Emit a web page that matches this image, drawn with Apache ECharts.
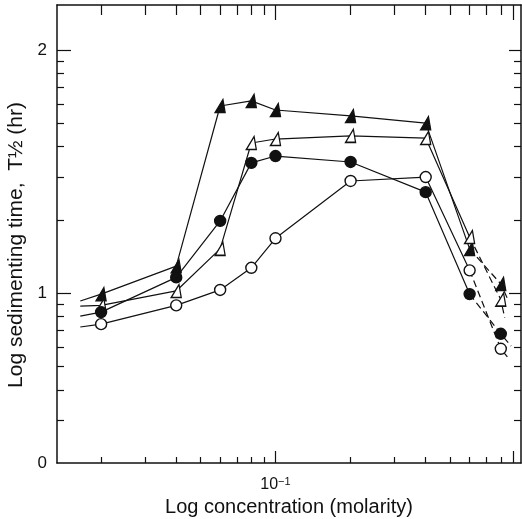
<!DOCTYPE html>
<html><head><meta charset="utf-8">
<script src="https://cdn.jsdelivr.net/npm/echarts@6/dist/echarts.min.js"></script>
<style>html,body{margin:0;padding:0;background:#fff}#c{width:522px;height:519px}</style>
</head><body><div id="c"></div>
<script>
// ---- data ----
const concentrations = [0.02, 0.04, 0.06, 0.08, 0.1, 0.2, 0.4, 0.6, 0.8];
const filledTriangle = [9.9, 12.9, 58.8, 61.7, 56.6, 53.5, 50.0, 15.2, 10.9];
const openTriangle   = [8.9, 10.2, 15.2, 41.4, 43.0, 44.3, 43.4, 17.0, 9.4];
const filledCircle   = [8.35, 11.6, 19.8, 34.3, 36.6, 34.6, 26.0, 9.9, 6.8];
const openCircle     = [7.45, 8.9, 10.3, 12.7, 16.8, 28.9, 30.0, 12.4, 5.9];
// line ends drawn beyond the first / last points
const leftStubX = 0.0165;
const leftStubY = [9.27, 8.84, 8.04, 7.25];
const rightStubX = [0.86, 0.83, 0.88, 0.85];
const rightStubY = [9.27, 7.9, 6.05, 5.46];
// axes
const xMinorTicks = [0.02,0.03,0.04,0.05,0.06,0.07,0.08,0.09,0.2,0.3,0.4,0.5,0.6,0.7,0.8];
const xMajorTicks = [0.1, 0.9];
const xTickLabels = [0.1];
const yMinorTicks = [3,4,5,6,7,8,9,20,30,40,50,60,70,80,90];
const yMajorTicks = [10, 100];
const yTickLabels = [2, 10, 100];
const yTickText = {2: '0', 10: '1', 100: '2'};

const FONT = '"Liberation Sans", Arial, Helvetica, sans-serif';
const INK = '#111';
const X_MIN = 0.01331, X_MAX = 0.964, Y_MIN = 2, Y_MAX = 153;

function xAx(pos, ticks, len, showLine, labels) {
  return {
    type: 'log', logBase: 10, position: pos, min: X_MIN, max: X_MAX,
    axisLine: {show: showLine, lineStyle: {color: INK, width: 1.5}},
    axisTick: {show: true, inside: true, length: len, customValues: ticks, lineStyle: {color: INK, width: 1.2}},
    axisLabel: labels ? {
      show: true, customValues: labels, margin: 13, fontFamily: FONT, color: INK,
      formatter: () => '{b|10}{s|−1}',
      rich: {b: {fontSize: 16, fontFamily: FONT, color: INK}, s: {fontSize: 11, fontFamily: FONT, color: INK, verticalAlign: 'top', padding: [0,0,6,0]}}
    } : {show: false},
    splitLine: {show: false}, minorTick: {show: false}
  };
}
function yAx(pos, ticks, len, showLine, labels) {
  return {
    type: 'log', logBase: 10, position: pos, min: Y_MIN, max: Y_MAX,
    axisLine: {show: showLine, lineStyle: {color: INK, width: 1.5}},
    axisTick: {show: true, inside: true, length: len, customValues: ticks, lineStyle: {color: INK, width: 1.2}},
    axisLabel: labels ? {
      show: true, customValues: labels, margin: 10, fontSize: 17, fontFamily: FONT, color: INK,
      formatter: v => yTickText[Math.round(v)] ?? ''
    } : {show: false},
    splitLine: {show: false}, minorTick: {show: false}
  };
}

const xAxes = [
  xAx('bottom', xMinorTicks, 6, true, xTickLabels),
  xAx('bottom', xMajorTicks, 12, false, null),
  xAx('top', xMinorTicks, 10, true, null),
  xAx('top', xMajorTicks, 15, false, null)
];
xAxes[0].name = 'Log concentration (molarity)';
xAxes[0].nameLocation = 'middle';
xAxes[0].nameGap = 30;
xAxes[0].nameTextStyle = {fontSize: 20, fontFamily: FONT, color: INK};

const yAxes = [
  yAx('left', yMinorTicks, 7, true, yTickLabels),
  yAx('left', yMajorTicks, 14, false, null),
  yAx('right', yMinorTicks, 7, true, null),
  yAx('right', yMajorTicks, 12, false, null)
];
yAxes[0].name = 'Log sedimenting time,  T½ (hr)';
yAxes[0].nameLocation = 'middle';
yAxes[0].nameGap = 29;
yAxes[0].nameTextStyle = {fontSize: 21, fontFamily: FONT, color: INK, padding: [0, 22, 0, 0]};

const TRI = 'path://M7,0 L9,12 L0,12 Z';
const groups = [
  {vals: filledTriangle, symbol: TRI, size: [10, 13], fill: INK},
  {vals: openTriangle, symbol: TRI, size: [10, 13], fill: '#fff'},
  {vals: filledCircle, symbol: 'circle', size: 11, fill: INK},
  {vals: openCircle, symbol: 'circle', size: 11, fill: '#fff'}
];

const series = [];
groups.forEach((g, i) => {
  const solid = [[leftStubX, leftStubY[i]]].concat(concentrations.slice(0, 8).map((c, j) => [c, g.vals[j]]));
  const dashed = [[concentrations[7], g.vals[7]], [concentrations[8], g.vals[8]], [rightStubX[i], rightStubY[i]]];
  series.push({type: 'line', data: solid, symbol: 'none', lineStyle: {color: INK, width: 1.2}, z: 2, silent: true});
  series.push({type: 'line', data: dashed, symbol: 'none', lineStyle: {color: INK, width: 1.2, type: [7, 4]}, z: 2, silent: true});
  series.push({type: 'scatter', data: concentrations.map((c, j) => [c, g.vals[j]]), symbol: g.symbol, symbolSize: g.size,
    itemStyle: {color: g.fill, borderColor: INK, borderWidth: 1.4, opacity: 1}, z: 3, silent: true});
});

const chart = echarts.init(document.getElementById('c'), null, {renderer: 'canvas'});
chart.setOption({
  animation: false,
  backgroundColor: '#fff',
  grid: {left: 57, right: 1, top: 5, bottom: 56, containLabel: false, outerBoundsMode: 'none'},
  xAxis: xAxes,
  yAxis: yAxes,
  series: series
});
</script></body></html>
